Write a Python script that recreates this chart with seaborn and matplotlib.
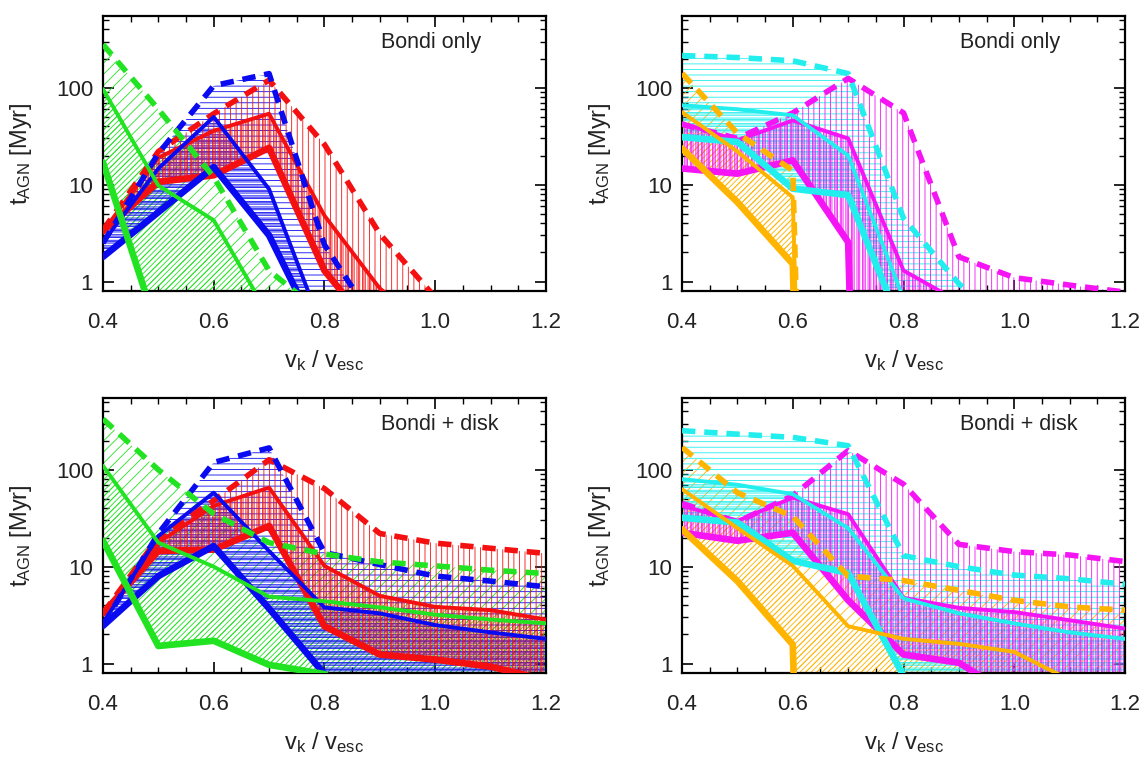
import matplotlib
matplotlib.use("Agg")
import matplotlib.pyplot as plt
from matplotlib.ticker import (FixedLocator, FixedFormatter, MultipleLocator,
                               FormatStrFormatter, NullFormatter)
import seaborn as sns

# kick velocity in units of the escape speed
x_vals = [0.4, 0.5, 0.6, 0.7, 0.8, 0.9, 1.0, 1.1, 1.2]

# a value far below the axis, used where a track drops out abruptly
GONE = 1e-20

# ---- Bondi only, left panel ----
bo_green_dash = [280, 60, 12, 1.3, 0.45, 0.2, 0.1, 0.1, 0.1]
bo_green_thin = [97, 9.8, 4.3, 0.44, 0.2, 0.1, 0.1, 0.1, 0.1]
bo_green_thick = [17, 0.3, 0.2, 0.1, 0.1, 0.1, 0.1, 0.1, 0.1]
bo_blue_dash = [2.5, 21, 105, 140, 2.4, 0.32, 0.1, 0.1, 0.1]
bo_blue_thin = [2.55, 14.7, 50, 9.0, 0.29, 0.1, 0.1, 0.1, 0.1]
bo_blue_thick = [1.8, 5.2, 15.2, 3.0, 0.21, 0.1, 0.1, 0.1, 0.1]
bo_red_dash = [3.4, 22, 54, 120, 26, 3.1, 0.69, 0.3, 0.2]
bo_red_thin = [3.3, 19, 36, 54, 4.8, 0.85, 0.3, 0.2, 0.1]
bo_red_thick = [3.3, 10.7, 12.5, 24, 1.3, 0.26, 0.1, 0.1, 0.1]

# ---- Bondi only, right panel ----
bo_orange_dash = [141, 34, 14, GONE, GONE, GONE, GONE, GONE, GONE]
bo_orange_thin = [56, 22, 7.4, GONE, GONE, GONE, GONE, GONE, GONE]
bo_orange_thick = [23.6, 6.6, 1.52, GONE, GONE, GONE, GONE, GONE, GONE]
bo_cyan_dash = [215, 205, 190, 140, 4.5, 0.95, 0.3, 0.1, 0.1]
bo_cyan_thin = [66, 60, 52, 20, 0.67, 0.2, 0.1, 0.1, 0.1]
bo_cyan_thick = [31, 27.6, 9.1, 7.8, 0.3, 0.1, 0.1, 0.1, 0.1]
bo_magenta_dash = [42, 30, 55, 125, 55, 1.8, 1.1, 0.92, 0.78]
bo_magenta_thin = [43, 28.7, 46, 30, 1.3, 0.62, 0.3, 0.1, 0.1]
bo_magenta_thick = [14.7, 13.0, 17.8, 2.55, GONE, GONE, GONE, GONE, GONE]

# ---- Bondi + disk, left panel ----
bd_green_dash = [334, 100, 35, 17.7, 13.5, 11.2, 10.2, 9.2, 8.5]
bd_green_thin = [110, 17.7, 10, 4.9, 4.4, 3.8, 3.2, 2.85, 2.6]
bd_green_thick = [18.5, 1.52, 1.72, 0.97, 0.78, 0.3, 0.2, 0.1, 0.1]
bd_blue_dash = [2.5, 22, 119, 168, 14, 10.5, 8.0, 7.1, 6.2]
bd_blue_thin = [2.6, 20.7, 58, 14.5, 3.8, 3.3, 2.5, 2.1, 1.8]
bd_blue_thick = [2.45, 8.0, 16.3, 3.7, 0.78, 0.3, 0.2, 0.1, 0.1]
bd_red_dash = [3.3, 20, 48, 127, 64, 22, 17.5, 15.5, 13.7]
bd_red_thin = [3.2, 17.7, 42.4, 65.5, 10.2, 5.0, 3.85, 3.56, 2.85]
bd_red_thick = [3.3, 14.5, 15, 26.3, 2.43, 1.24, 1.1, 0.93, 0.68]

# ---- Bondi + disk, right panel ----
bd_orange_dash = [170, 58, 33, 8.0, 7.2, 5.7, 4.5, 3.85, 3.56]
bd_orange_thin = [63, 25, 10.2, 2.43, 1.8, 1.6, 1.32, 0.68, 0.3]
bd_orange_thick = [24.3, 7.1, 1.57, GONE, GONE, GONE, GONE, GONE, GONE]
bd_cyan_dash = [253, 233, 216, 177, 13, 10, 8.2, 7.5, 6.6]
bd_cyan_thin = [80, 70, 56, 25, 4.7, 3.3, 2.6, 2.1, 1.8]
bd_cyan_thick = [32, 28.5, 11.5, 8.6, 0.75, 0.3, 0.1, 0.1, 0.1]
bd_magenta_dash = [45, 29, 54, 158, 71, 17, 14.3, 13.2, 11.3]
bd_magenta_thin = [42.5, 29.7, 51.6, 34.8, 4.77, 3.76, 3.4, 2.8, 2.3]
bd_magenta_thick = [22.4, 18.5, 22.4, 4.5, 1.24, 1.02, 0.45, 0.2, 0.1]

panel_titles = ["Bondi only", "Bondi only", "Bondi + disk", "Bondi + disk"]
y_tick_values = [1, 10, 100]
y_tick_labels = ["1", "10", "100"]
y_minor_values = [2, 3, 4, 5, 6, 7, 8, 9, 20, 30, 40, 50, 60, 70, 80, 90,
                  200, 300, 400, 500]

GREEN = "#22e322"
BLUE = "#0a0af0"
RED = "#f41010"
ORANGE = "#ffb400"
CYAN = "#22eeee"
MAGENTA = "#f414f4"

HATCH = {
    "diag": ("///", "//////"),
    "horiz": ("---", "------"),
    "vert": ("|||", "||||||"),
}

sns.set_theme(style="ticks")
plt.rcParams["font.family"] = ["Liberation Sans", "DejaVu Sans"]
plt.rcParams["mathtext.fontset"] = "custom"
plt.rcParams["mathtext.rm"] = "Liberation Sans"
plt.rcParams["mathtext.it"] = "Liberation Sans"
plt.rcParams["hatch.linewidth"] = 0.6
plt.rcParams["text.color"] = "#222222"
plt.rcParams["axes.labelcolor"] = "#222222"
plt.rcParams["xtick.color"] = "black"
plt.rcParams["ytick.color"] = "black"
plt.rcParams["xtick.labelcolor"] = "#222222"
plt.rcParams["ytick.labelcolor"] = "#222222"

fig = plt.figure(figsize=(11.44, 7.62), dpi=100)
positions = [
    [0.0900, 0.6181, 0.3872, 0.3609],
    [0.5962, 0.6181, 0.3872, 0.3609],
    [0.0900, 0.1168, 0.3872, 0.3609],
    [0.5962, 0.1168, 0.3872, 0.3609],
]

panel_bands = [
    [(GREEN, bo_green_dash, bo_green_thin, bo_green_thick, "diag"),
     (BLUE, bo_blue_dash, bo_blue_thin, bo_blue_thick, "horiz"),
     (RED, bo_red_dash, bo_red_thin, bo_red_thick, "vert")],
    [(ORANGE, bo_orange_dash, bo_orange_thin, bo_orange_thick, "diag"),
     (CYAN, bo_cyan_dash, bo_cyan_thin, bo_cyan_thick, "horiz"),
     (MAGENTA, bo_magenta_dash, bo_magenta_thin, bo_magenta_thick, "vert")],
    [(GREEN, bd_green_dash, bd_green_thin, bd_green_thick, "diag"),
     (BLUE, bd_blue_dash, bd_blue_thin, bd_blue_thick, "horiz"),
     (RED, bd_red_dash, bd_red_thin, bd_red_thick, "vert")],
    [(ORANGE, bd_orange_dash, bd_orange_thin, bd_orange_thick, "diag"),
     (CYAN, bd_cyan_dash, bd_cyan_thin, bd_cyan_thick, "horiz"),
     (MAGENTA, bd_magenta_dash, bd_magenta_thin, bd_magenta_thick, "vert")],
]

for pos, title, bands in zip(positions, panel_titles, panel_bands):
    ax = fig.add_axes(pos)
    ax.set_yscale("log")
    ax.set_xlim(0.4, 1.2)
    ax.set_ylim(0.8, 550)

    # hatched ranges: full range (dashed to thick) and inner range (thin to thick)
    for color, upper, mid, lower, kind in bands:
        h_out, h_in = HATCH[kind]
        ax.fill_between(x_vals, lower, upper, facecolor="none", edgecolor=color,
                        linewidth=0, hatch=h_out, zorder=1)
        ax.fill_between(x_vals, lower, mid, facecolor="none", edgecolor=color,
                        linewidth=0, hatch=h_in, zorder=1)

    # bounding curves, drawn last-to-first so the first colour sits on top
    for color, upper, mid, lower, kind in reversed(bands):
        sns.lineplot(x=x_vals, y=upper, ax=ax, color=color, linewidth=4.0,
                     linestyle=(0, (2.4, 1.6)), estimator=None, sort=False,
                     errorbar=None, zorder=3)
        sns.lineplot(x=x_vals, y=mid, ax=ax, color=color, linewidth=2.8,
                     estimator=None, sort=False, errorbar=None, zorder=3)
        sns.lineplot(x=x_vals, y=lower, ax=ax, color=color, linewidth=4.8,
                     estimator=None, sort=False, errorbar=None, zorder=3)

    ax.set_yscale("log")
    ax.set_xlim(0.4, 1.2)
    ax.set_ylim(0.8, 550)
    ax.yaxis.set_major_locator(FixedLocator(y_tick_values))
    ax.yaxis.set_major_formatter(FixedFormatter(y_tick_labels))
    ax.yaxis.set_minor_locator(FixedLocator(y_minor_values))
    ax.yaxis.set_minor_formatter(NullFormatter())
    ax.xaxis.set_major_locator(MultipleLocator(0.2))
    ax.xaxis.set_minor_locator(MultipleLocator(0.05))
    ax.xaxis.set_major_formatter(FormatStrFormatter("%.1f"))

    ax.tick_params(which="both", direction="in", top=True, right=True)
    ax.tick_params(which="major", length=8, width=1.2)
    ax.tick_params(which="minor", length=4, width=1.0)
    ax.tick_params(axis="x", pad=15, labelsize=16)
    ax.tick_params(axis="y", pad=7, labelsize=16)
    for side in ax.spines.values():
        side.set_linewidth(1.6)
        side.set_color("black")

    ax.set_xlabel(r"$\mathrm{v_{k}}$ / $\mathrm{v_{esc}}$", fontsize=17,
                  labelpad=11)
    ax.set_ylabel(r"$\mathrm{t_{AGN}}$ [Myr]", fontsize=17)
    ax.yaxis.set_label_coords(-0.155, 0.5)
    ax.text(0.628, 0.905, title, transform=ax.transAxes, ha="left",
            va="center", fontsize=15.5)

fig.savefig("out.png", dpi=100)
